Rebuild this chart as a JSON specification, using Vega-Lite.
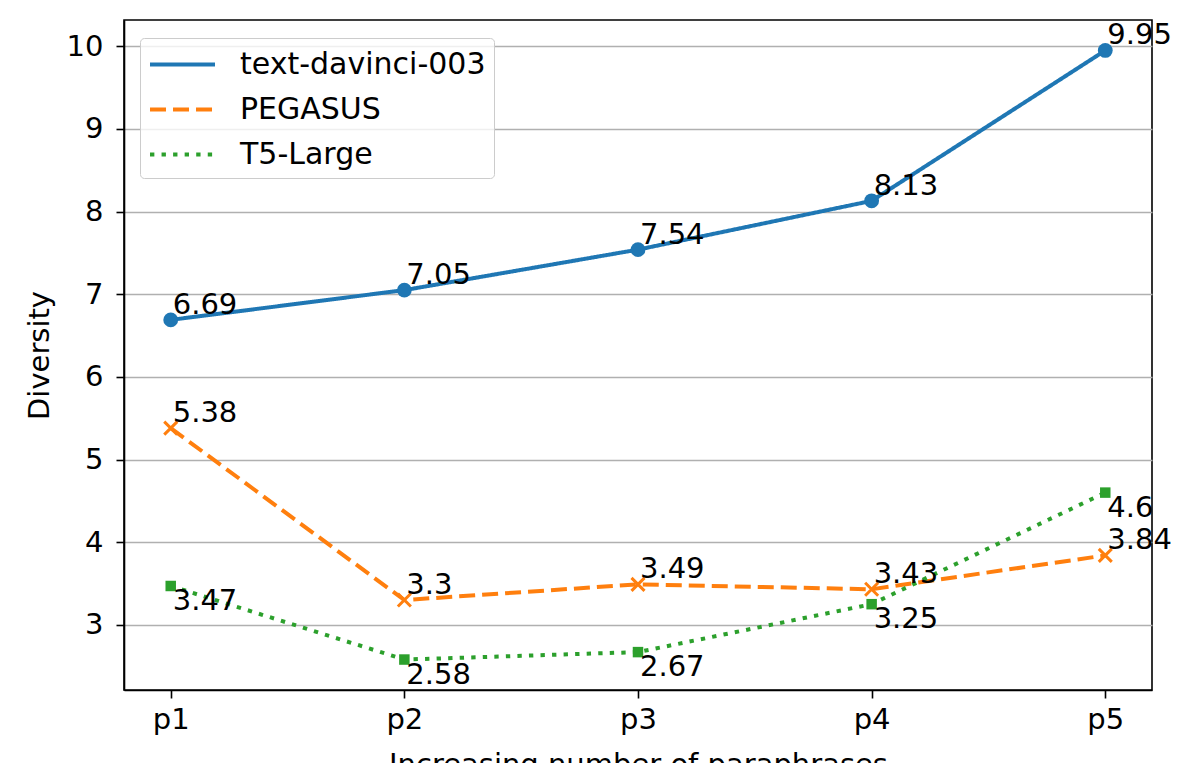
{
  "$schema": "https://vega.github.io/schema/vega-lite/v6.json",
  "width": 1028,
  "height": 670,
  "autosize": "none",
  "padding": {"left": 124, "top": 20, "right": 44, "bottom": 73},
  "background": "white",
  "config": {
    "font": "DejaVu Sans",
    "view": {"stroke": "black", "strokeWidth": 1.6},
    "axis": {
      "labelFontSize": 29,
      "labelColor": "black",
      "titleFontSize": 29,
      "titleFontWeight": "normal",
      "titleColor": "black",
      "domainColor": "black",
      "domainWidth": 1.6,
      "tickColor": "black",
      "tickWidth": 1.6,
      "tickSize": 8
    }
  },
  "data": {
    "values": [
      {"model": "text-davinci-003", "p": 1, "value": 6.69},
      {"model": "text-davinci-003", "p": 2, "value": 7.05},
      {"model": "text-davinci-003", "p": 3, "value": 7.54},
      {"model": "text-davinci-003", "p": 4, "value": 8.13},
      {"model": "text-davinci-003", "p": 5, "value": 9.95},
      {"model": "PEGASUS", "p": 1, "value": 5.38},
      {"model": "PEGASUS", "p": 2, "value": 3.3},
      {"model": "PEGASUS", "p": 3, "value": 3.49},
      {"model": "PEGASUS", "p": 4, "value": 3.43},
      {"model": "PEGASUS", "p": 5, "value": 3.84},
      {"model": "T5-Large", "p": 1, "value": 3.47},
      {"model": "T5-Large", "p": 2, "value": 2.58},
      {"model": "T5-Large", "p": 3, "value": 2.67},
      {"model": "T5-Large", "p": 4, "value": 3.25},
      {"model": "T5-Large", "p": 5, "value": 4.6}
    ]
  },
  "encoding": {
    "x": {
      "field": "p",
      "type": "quantitative",
      "scale": {"domain": [0.8, 5.2], "nice": false, "zero": false},
      "axis": {
        "values": [1, 2, 3, 4, 5],
        "labelExpr": "'p' + datum.value",
        "grid": false,
        "labelPadding": 7,
        "title": "Increasing number of paraphrases",
        "titlePadding": 16
      }
    },
    "y": {
      "field": "value",
      "type": "quantitative",
      "scale": {"domain": [2.2115, 10.3185], "nice": false, "zero": false},
      "axis": {
        "values": [3, 4, 5, 6, 7, 8, 9, 10],
        "grid": true,
        "gridColor": "#b0b0b0",
        "gridWidth": 1.5,
        "labelPadding": 13,
        "title": "Diversity",
        "titlePadding": 12
      }
    }
  },
  "layer": [
    {
      "mark": {"type": "line", "strokeWidth": 4},
      "encoding": {
        "color": {
          "field": "model",
          "type": "nominal",
          "scale": {
            "domain": ["text-davinci-003", "PEGASUS", "T5-Large"],
            "range": ["#1f77b4", "#ff7f0e", "#2ca02c"]
          },
          "legend": {
            "title": null,
            "orient": "none",
            "legendX": 16,
            "legendY": 18,
            "fillColor": "rgba(255,255,255,0.8)",
            "strokeColor": "#cccccc",
            "cornerRadius": 4,
            "padding": 8,
            "labelFontSize": 30,
            "labelColor": "black",
            "labelLimit": 400,
            "symbolType": "M-2,0L2,0",
            "symbolSize": 1056,
            "symbolStrokeWidth": 4,
            "symbolOffset": 16,
            "rowPadding": 11,
            "labelOffset": 39
          }
        },
        "strokeDash": {
          "field": "model",
          "type": "nominal",
          "scale": {
            "domain": ["text-davinci-003", "PEGASUS", "T5-Large"],
            "range": [[1, 0], [16, 7], [4.35, 7.2]]
          }
        }
      }
    },
    {
      "transform": [{"filter": "datum.model === 'text-davinci-003'"}],
      "mark": {"type": "point", "shape": "circle", "filled": true, "opacity": 1, "size": 220, "color": "#1f77b4"}
    },
    {
      "transform": [{"filter": "datum.model === 'PEGASUS'"}],
      "mark": {"type": "point", "shape": "M-1,-1L1,1M-1,1L1,-1", "filled": false, "opacity": 1, "size": 169, "strokeWidth": 3, "color": "#ff7f0e"}
    },
    {
      "transform": [{"filter": "datum.model === 'T5-Large'"}],
      "mark": {"type": "point", "shape": "square", "filled": true, "opacity": 1, "size": 110, "color": "#2ca02c"}
    },
    {
      "transform": [{"filter": "datum.model !== 'T5-Large'"}],
      "mark": {"type": "text", "align": "left", "baseline": "bottom", "dx": 2, "fontSize": 29, "color": "black"},
      "encoding": {"text": {"field": "value", "type": "quantitative", "format": ""}}
    },
    {
      "transform": [{"filter": "datum.model === 'T5-Large'"}],
      "mark": {"type": "text", "align": "left", "baseline": "top", "dx": 2, "dy": 1, "fontSize": 29, "color": "black"},
      "encoding": {"text": {"field": "value", "type": "quantitative", "format": ""}}
    }
  ]
}
